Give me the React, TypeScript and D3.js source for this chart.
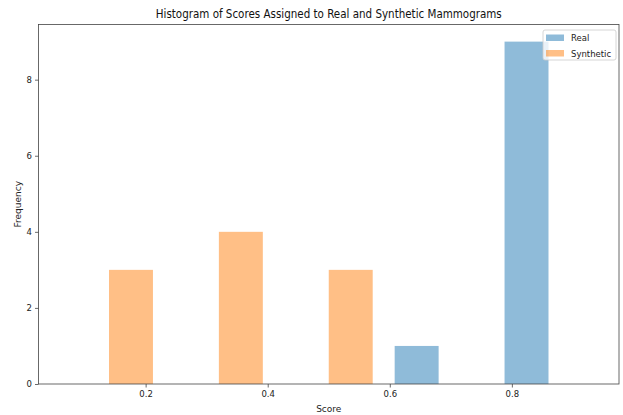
import { useEffect, useRef } from "react";
import * as d3 from "d3";

// histogram bin edges and counts per bin
const binEdges = [0.05, 0.23, 0.41, 0.59, 0.77, 0.95];
const realCounts = [0, 0, 0, 1, 9];
const syntheticCounts = [3, 4, 3, 0, 0];
const seriesNames = ["Real", "Synthetic"];
const xTicks = [0.2, 0.4, 0.6, 0.8];
const yTicks = [0, 2, 4, 6, 8];

export default function App() {
  const ref = useRef<SVGSVGElement>(null);

  useEffect(() => {
    const width = 623;
    const height = 415;
    const margin = { top: 24.5, right: 4, bottom: 31, left: 38.5 };
    const font = "DejaVu Sans, sans-serif";
    const colors = ["rgba(31,119,180,0.5)", "rgba(255,127,14,0.5)"];

    const svg = d3.select(ref.current);
    svg.selectAll("*").remove();

    const x = d3.scaleLinear().domain([0.0245, 0.9755]).range([margin.left, width - margin.right]);
    const y = d3.scaleLinear().domain([0, 9.45]).range([height - margin.bottom, margin.top]);

    const series = [realCounts, syntheticCounts];
    const n = series.length;

    // bars like matplotlib hist with rwidth 0.8, datasets side by side
    series.forEach((counts, s) => {
      svg.append("g")
        .selectAll("rect")
        .data(counts)
        .join("rect")
        .attr("x", (_, i) => {
          const w = binEdges[i + 1] - binEdges[i];
          return x(binEdges[i] + w * 0.1 + (s * w * 0.8) / n);
        })
        .attr("width", (_, i) => {
          const w = binEdges[i + 1] - binEdges[i];
          return x(binEdges[i] + (w * 0.8) / n) - x(binEdges[i]);
        })
        .attr("y", (d) => y(d))
        .attr("height", (d) => y(0) - y(d))
        .attr("fill", colors[s]);
    });

    // frame
    svg.append("rect")
      .attr("x", margin.left)
      .attr("y", margin.top)
      .attr("width", width - margin.right - margin.left)
      .attr("height", height - margin.bottom - margin.top)
      .attr("fill", "none")
      .attr("stroke", "#444")
      .attr("stroke-width", 0.8);

    const xAxis = svg.append("g")
      .attr("transform", `translate(0,${height - margin.bottom})`)
      .call(d3.axisBottom(x).tickValues(xTicks).tickSize(3.5).tickPadding(3).tickFormat(d3.format(".1f")));
    const yAxis = svg.append("g")
      .attr("transform", `translate(${margin.left},0)`)
      .call(d3.axisLeft(y).tickValues(yTicks).tickSize(3.5).tickPadding(3).tickFormat(d3.format("d")));

    [xAxis, yAxis].forEach((a) => {
      a.select(".domain").remove();
      a.selectAll("line").attr("stroke", "#444").attr("stroke-width", 0.8);
      a.selectAll("text").attr("font-family", font).attr("font-size", 8.5).attr("fill", "#222");
    });

    svg.append("text")
      .attr("x", (margin.left + width - margin.right) / 2)
      .attr("y", 18)
      .attr("text-anchor", "middle")
      .attr("font-family", font)
      .attr("font-size", 11.5)
      .attr("textLength", 346)
      .attr("lengthAdjust", "spacingAndGlyphs")
      .attr("fill", "#111")
      .text("Histogram of Scores Assigned to Real and Synthetic Mammograms");

    svg.append("text")
      .attr("x", (margin.left + width - margin.right) / 2)
      .attr("y", 412)
      .attr("text-anchor", "middle")
      .attr("font-family", font)
      .attr("font-size", 9)
      .attr("fill", "#222")
      .text("Score");

    svg.append("text")
      .attr("transform", `translate(21,${(margin.top + height - margin.bottom) / 2}) rotate(-90)`)
      .attr("text-anchor", "middle")
      .attr("font-family", font)
      .attr("font-size", 9)
      .attr("fill", "#222")
      .text("Frequency");

    // legend
    const lg = svg.append("g").attr("transform", "translate(543,30)");
    lg.append("rect")
      .attr("width", 73)
      .attr("height", 30)
      .attr("rx", 2)
      .attr("fill", "rgba(255,255,255,0.8)")
      .attr("stroke", "#ccc")
      .attr("stroke-width", 0.8);
    seriesNames.forEach((name, i) => {
      lg.append("rect")
        .attr("x", 3)
        .attr("y", 4.5 + i * 15.5)
        .attr("width", 18)
        .attr("height", 6.5)
        .attr("fill", colors[i]);
      lg.append("text")
        .attr("x", 28)
        .attr("y", 11 + i * 15.5)
        .attr("font-family", font)
        .attr("font-size", 8.5)
        .attr("fill", "#222")
        .text(name);
    });
  }, []);

  return (
    <div style={{ position: "absolute", left: 0, top: 0 }}>
      <svg ref={ref} width={623} height={415} style={{ display: "block", background: "white" }} />
    </div>
  );
}
